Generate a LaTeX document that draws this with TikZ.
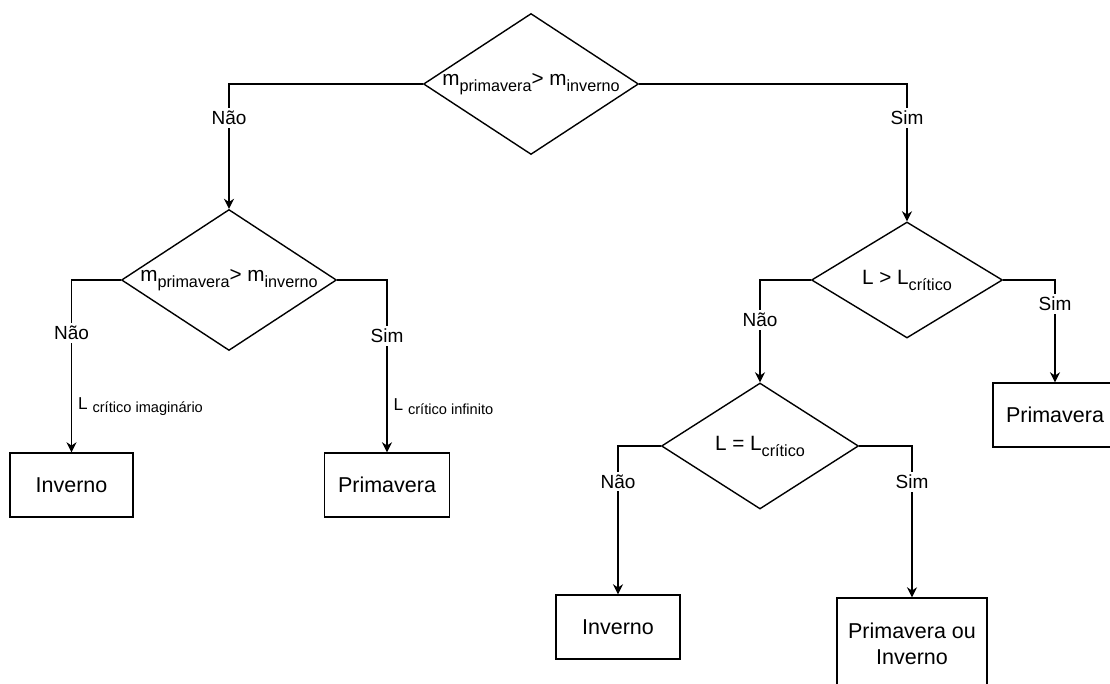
\documentclass[tikz,border=0pt]{standalone}
\usepackage{fontspec}
\setmainfont{Liberation Sans}
\usetikzlibrary{shapes.geometric, arrows.meta}

\newcommand{\lowsub}[1]{\raisebox{-3pt}{\fontsize{8.1}{9}\selectfont #1}}
\newcommand{\edgesub}[1]{\raisebox{-1.8pt}{\fontsize{7.3}{8}\selectfont #1}}

\begin{document}
\begin{tikzpicture}[
    x=0.5pt, y=-0.5pt,
    decisionBox/.style={diamond, draw, line width=0.7pt, inner sep=0pt, font=\fontsize{10.35}{12}\selectfont},
    resultBox/.style={rectangle, draw, line width=0.7pt, minimum height=32pt, align=center, font=\fontsize{10.75}{13}\selectfont},
    answer/.style={fill=white, inner sep=1.5pt, font=\fontsize{9.5}{11}\selectfont},
    caseLabel/.style={anchor=west, inner sep=1pt, xshift=2pt, font=\fontsize{8.6}{10}\selectfont},
    flow/.style={->, >={Stealth[length=5pt, width=5pt]}, line width=0.7pt},
    ]
    \useasboundingbox (0, 0) rectangle (1110, 684);

    \node[decisionBox, minimum width=107.5pt, minimum height=70.5pt] (topQ) at (531, 84) {\makebox[0pt]{m\lowsub{primavera}> m\lowsub{inverno}}};

    \node[decisionBox, minimum width=107.5pt, minimum height=70.5pt] (leftQ) at (229, 280) {\makebox[0pt]{m\lowsub{primavera}> m\lowsub{inverno}}};
    \node[decisionBox, minimum width=95.5pt, minimum height=58pt] (rightQ) at (907, 280) {\makebox[0pt]{L > L\lowsub{crítico}}};
    \node[decisionBox, minimum width=98.5pt, minimum height=63pt] (midQ) at (760, 446) {\makebox[0pt]{L = L\lowsub{crítico}}};

    \node[resultBox, minimum width=61.5pt] (invA) at (71.5, 485) {Inverno};
    \node[resultBox, minimum width=62.5pt] (priA) at (387, 485) {Primavera};
    \node[resultBox, minimum width=62pt] (priB) at (1055, 415) {Primavera};
    \node[resultBox, minimum width=62pt] (invB) at (618, 627) {Inverno};
    \node[resultBox, minimum width=75pt, minimum height=46pt] (eitherB) at (912, 644) {Primavera ou\\Inverno};

    \draw[flow] (topQ.west) -| node[answer, pos=0.636] {Não} (leftQ.north);
    \draw[flow] (topQ.east) -| node[answer, pos=0.623] {Sim} (rightQ.north);

    \draw[flow] (leftQ.west) -| node[answer, pos=0.653] {Não} node[caseLabel, pos=0.867] {L \edgesub{crítico imaginário}} (invA.north);
    \draw[flow] (leftQ.east) -| node[answer, pos=0.662] {Sim} node[caseLabel, pos=0.867] {L \edgesub{crítico infinito}} (priA.north);

    \draw[flow] (rightQ.west) -| node[answer, pos=0.694] {Não} (midQ.north);
    \draw[flow] (rightQ.east) -| node[answer, pos=0.617] {Sim} (priB.north);

    \draw[flow] (midQ.west) -| node[answer, pos=0.62] {Não} (invB.north);
    \draw[flow] (midQ.east) -| node[answer, pos=0.618] {Sim} (eitherB.north);
\end{tikzpicture}
\end{document}
